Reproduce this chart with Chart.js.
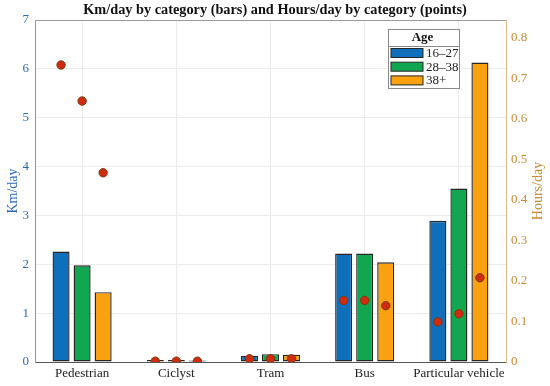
<!DOCTYPE html>
<html>
<head>
<meta charset="utf-8">
<script src="https://cdn.jsdelivr.net/npm/chart.js@4"></script>
<style>
  html, body { margin: 0; padding: 0; background: #fff; }
  #wrap { width: 550px; height: 386px; }
</style>
</head>
<body>
<div id="wrap"><canvas id="chart" width="550" height="386"></canvas></div>
<script>
// --- data ---
const categories = ['Pedestrian', 'Ciclyst', 'Tram', 'Bus', 'Particular vehicle'];
const ageGroups  = ['16\u201327', '28\u201338', '38+'];

// Km/day (bars, left axis)
const km16 = [2.26, 0.04, 0.13, 2.22, 2.89];
const km28 = [1.98, 0.04, 0.16, 2.22, 3.55];
const km38 = [1.43, 0.03, 0.15, 2.04, 6.13];

// Hours/day (points, right axis)
const hours16 = [0.733, 0.002, 0.008, 0.152, 0.099];
const hours28 = [0.644, 0.002, 0.008, 0.152, 0.119];
const hours38 = [0.467, 0.002, 0.008, 0.139, 0.208];

const kmTicks    = [0, 1, 2, 3, 4, 5, 6, 7];
const hoursTicks = [0, 0.1, 0.2, 0.3, 0.4, 0.5, 0.6, 0.7, 0.8];

// ─── style ────────────────────────────
const FONT = 'Liberation Serif, Times New Roman, serif';
const barColors = ['#0F6FBB', '#12A650', '#F9A10E'];
const blueAxis = '#2F6BB3';
const tanAxis  = '#C98A35';
const CAT_PCT  = 0.67;
const BAR_PCT  = 0.81;

// points sit on top of their bar: shift by one bar slot
const slot = CAT_PCT / ageGroups.length;
const toBars   = arr => arr.map((v, i) => ({ x: i, y: v }));
const toPoints = (arr, g) => arr.map((v, i) => ({ x: i + (g - 1) * slot, y: v }));

const kmSets = [km16, km28, km38];
const hourSets = [hours16, hours28, hours38];

const datasets = [];
kmSets.forEach((d, g) => {
  datasets.push({
    type: 'bar',
    label: ageGroups[g],
    data: toBars(d),
    backgroundColor: barColors[g],
    borderColor: '#262626',
    borderWidth: 1.4,
    borderSkipped: false,
    categoryPercentage: CAT_PCT,
    barPercentage: BAR_PCT,
    yAxisID: 'y',
    order: 2,
  });
});
hourSets.forEach((d, g) => {
  datasets.push({
    type: 'line',
    label: 'h ' + ageGroups[g],
    data: toPoints(d, g),
    showLine: false,
    backgroundColor: '#D02A10',
    borderColor: '#7E3B0C',
    borderWidth: 1,
    pointRadius: 4.2,
    yAxisID: 'y1',
    order: 1,
  });
});

// box, right-axis title and legend drawn on top
const decor = {
  id: 'decor',
  afterDraw(chart) {
    const { ctx, chartArea: a } = chart;
    ctx.save();
    // top border of the axes box
    ctx.strokeStyle = '#9a9a9a';
    ctx.lineWidth = 1;
    ctx.beginPath();
    ctx.moveTo(a.left, a.top + 0.5);
    ctx.lineTo(a.right, a.top + 0.5);
    ctx.stroke();

    // right axis title, bottom-to-top
    ctx.fillStyle = tanAxis;
    ctx.font = '14px ' + FONT;
    ctx.textAlign = 'center';
    ctx.textBaseline = 'middle';
    ctx.translate(538, (a.top + a.bottom) / 2);
    ctx.rotate(-Math.PI / 2);
    ctx.fillText('Hours/day', 0, 0);
    ctx.restore();

    // legend
    ctx.save();
    const L = 388, T = 29, W = 71, H = 59;
    ctx.fillStyle = '#fff';
    ctx.fillRect(L, T, W, H);
    ctx.strokeStyle = '#8a8a8a';
    ctx.lineWidth = 1;
    ctx.strokeRect(L + 0.5, T + 0.5, W, H);
    ctx.beginPath();
    ctx.moveTo(L, 46.5);
    ctx.lineTo(L + W, 46.5);
    ctx.stroke();
    ctx.fillStyle = '#111';
    ctx.font = 'bold 13px ' + FONT;
    ctx.textAlign = 'center';
    ctx.textBaseline = 'middle';
    ctx.fillText('Age', L + W / 2 - 1, 38);
    ctx.font = '13px ' + FONT;
    ctx.textAlign = 'left';
    ageGroups.forEach((name, g) => {
      const y = 48.5 + g * 13.7;
      ctx.fillStyle = barColors[g];
      ctx.fillRect(391, y, 32, 9);
      ctx.strokeStyle = '#262626';
      ctx.strokeRect(391, y, 32, 9);
      ctx.fillStyle = '#222';
      ctx.fillText(name, 426, y + 5);
    });
    ctx.restore();
  },
};

new Chart(document.getElementById('chart'), {
  type: 'bar',
  data: { datasets },
  plugins: [decor],
  options: {
    responsive: false,
    animation: false,
    layout: { padding: 0 },
    plugins: {
      legend: { display: false },
      tooltip: { enabled: false },
      title: {
        display: true,
        text: 'Km/day by category (bars) and Hours/day by category (points)',
        color: '#111',
        font: { family: FONT, size: 14.3, weight: 'bold', lineHeight: 1 },
        padding: { top: 3, bottom: 2.7 },
      },
    },
    scales: {
      x: {
        type: 'linear',
        offset: false,
        min: -0.5,
        max: categories.length - 0.5,
        afterBuildTicks: s => { s.ticks = categories.map((_, i) => ({ value: i })); },
        grid: { color: '#ebebeb', drawTicks: false, offset: false },
        border: { color: '#555', width: 1 },
        ticks: { color: '#222', font: { family: FONT, size: 13 }, padding: 4, maxRotation: 0, autoSkip: false,
          callback: v => categories[v] },
        afterFit: s => { s.height = 24; },
      },
      y: {
        position: 'left',
        min: kmTicks[0],
        max: kmTicks[kmTicks.length - 1],
        afterBuildTicks: s => { s.ticks = kmTicks.map(v => ({ value: v })); },
        grid: { color: '#ebebeb', drawTicks: false },
        border: { color: '#7C98C8', width: 1 },
        ticks: { color: blueAxis, font: { family: FONT, size: 13 }, padding: 6 },
        title: { display: true, text: 'Km/day', color: blueAxis, font: { family: FONT, size: 14 }, padding: { top: 5, bottom: 0 } },
        afterFit: s => { s.width = 35; },
      },
      y1: {
        position: 'right',
        min: 0,
        max: 0.844,
        afterBuildTicks: s => { s.ticks = hoursTicks.map(v => ({ value: v })); },
        grid: { display: false, drawTicks: false },
        border: { color: '#DDBB8C', width: 1 },
        ticks: { color: tanAxis, font: { family: FONT, size: 13 }, padding: 5,
          callback: v => v === 0 ? '0' : v.toFixed(1) },
        afterFit: s => { s.width = 44; },
      },
    },
  },
});
</script>
</body>
</html>
